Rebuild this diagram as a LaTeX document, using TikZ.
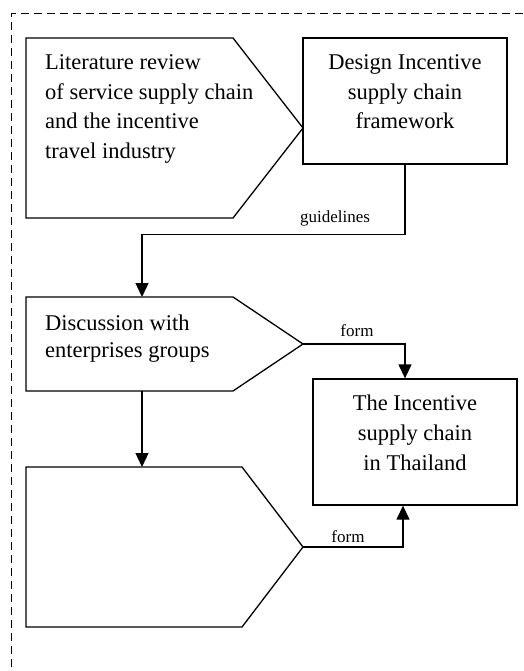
\documentclass[tikz,border=0pt]{standalone}
\usepackage{fontspec}
\setmainfont{Liberation Serif}
\usetikzlibrary{arrows.meta}
\begin{document}
\begin{tikzpicture}[x=1pt,y=-1pt,
  outline/.style={draw=black, line width=1.3pt, line join=miter},
  flow/.style={draw=black, line width=1.3pt, -{Triangle[length=14pt,width=13pt]}},
  stepbox/.style={draw=black, line width=1.3pt, minimum width=204pt, minimum height=126pt, inner sep=0pt},
  body/.style={font=\fontsize{22.5}{29.5}\selectfont, inner sep=0pt},
  tag/.style={font=\fontsize{17}{20}\selectfont, inner sep=0pt, anchor=base},
  frame/.style={draw=black, line width=1pt, dash pattern=on 8pt off 5pt}]
\useasboundingbox (0,0) rectangle (523,671);

% dashed enclosure (top and left sides)
\draw[frame] (523,14) -- (11,14) -- (11,671);

% step 1: literature review
\draw[outline] (26,38) -- (233,38) -- (303,128) -- (233,218) -- (26,218) -- cycle;
\coordinate (lit-tip) at (303,128);
\node[body, anchor=north west, align=left] (lit) at (45,54.6)
  {Literature review\\of service supply chain\\and the incentive\\travel industry};

% step 2: framework design
\node[stepbox] (design) at (405,101) {};
\node[body, anchor=north, align=center] (design-text) at (405,54.6)
  {Design Incentive\\supply chain\\framework};

% step 3: discussion
\draw[outline] (26,297) -- (233,297) -- (303,344) -- (233,391) -- (26,391) -- cycle;
\coordinate (disc-top) at (142,297);
\coordinate (disc-tip) at (303,344);
\coordinate (disc-foot) at (142,391);
\node[body, anchor=north west, align=left, font=\fontsize{22.5}{27}\selectfont] (disc) at (45,315)
  {Discussion with\\enterprises groups};

% step 4: empty pentagon
\draw[outline] (26,467) -- (242,467) -- (303,547) -- (242,627) -- (26,627) -- cycle;
\coordinate (blank-top) at (142,467);
\coordinate (blank-tip) at (303,547);

% result box
\node[stepbox] (result) at (415,442) {};
\node[body, anchor=north, align=center, font=\fontsize{22.5}{30}\selectfont] (result-text) at (415,394.6)
  {The Incentive\\supply chain\\in Thailand};
\coordinate (result-in) at ([xshift=-10pt]result.north);
\coordinate (result-up) at ([xshift=-12pt]result.south);

% connectors
\draw[flow] (design.south) -- ++(0,70) -| (disc-top);
\node[tag] (guide) at (335,222) {guidelines};
\draw[flow] (disc-tip) -| (result-in);
\node[tag] (form1) at (357,336) {form};
\draw[flow] (disc-foot) -- (blank-top);
\draw[flow] (blank-tip) -| (result-up);
\node[tag] (form2) at (348,542) {form};
\end{tikzpicture}
\end{document}
